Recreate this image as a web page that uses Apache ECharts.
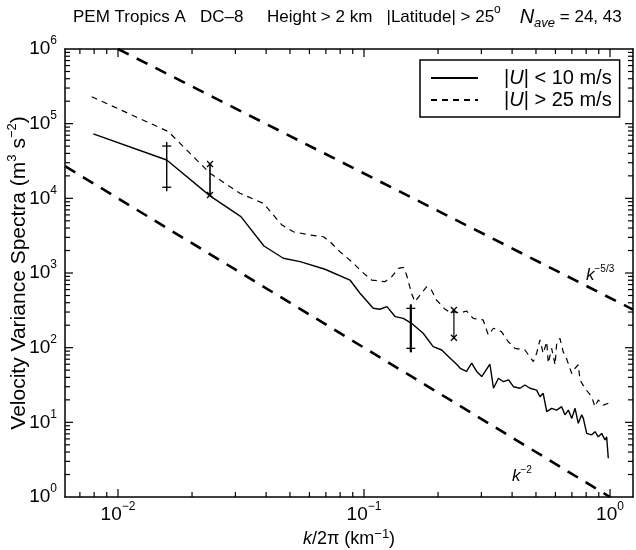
<!DOCTYPE html>
<html>
<head>
<meta charset="utf-8">
<script src="https://cdn.jsdelivr.net/npm/echarts@6/dist/echarts.min.js"></script>
<style>html,body{margin:0;padding:0;background:#fff}#chart{width:636px;height:550px}</style>
</head>
<body>
<div id="chart"></div>
<script>
var FONT = 'Liberation Sans';
var TICK_COLOR = '#000';

// axis ranges
var kMin = 0.00609, kMax = 1.24;
var vMin = 1, vMax = 1e6;

var seriesNames = ['|U| < 10 m/s', '|U| > 25 m/s'];

// |U| < 10 m/s (solid)
var lowK = [0.00794, 0.01578, 0.02366, 0.0316, 0.0392, 0.047, 0.055, 0.0694, 0.0877, 0.0963,
  0.109, 0.116, 0.124, 0.134, 0.1445, 0.156, 0.174, 0.191, 0.207, 0.224,
  0.238, 0.246, 0.261, 0.274, 0.287, 0.301, 0.325, 0.336, 0.352, 0.369,
  0.387, 0.405, 0.431, 0.451, 0.473, 0.503, 0.519, 0.535, 0.553, 0.579,
  0.607, 0.636, 0.656, 0.677, 0.699, 0.721, 0.743, 0.767, 0.779, 0.804,
  0.842, 0.869, 0.896, 0.925, 0.954, 0.969, 0.984];
var lowV = [72800, 32600, 10800, 5680, 2300, 1575, 1420, 1122, 805, 535,
  337, 327, 354, 260, 247, 212, 156, 103, 93, 72,
  60, 53, 48, 62, 48, 41, 60, 28.6, 39, 35,
  37, 30, 28.6, 31.6, 28.6, 27, 22, 24.5, 13.9, 15.4,
  14.6, 16.2, 12.6, 14.6, 11.3, 15.4, 9.7, 12.6, 11.3, 7.1,
  6.8, 7.5, 6.4, 7.1, 5.8, 6.4, 3.3];

// |U| > 25 m/s (dashed)
var highK = [0.00782, 0.01603, 0.01734, 0.02366, 0.0313, 0.039, 0.0428, 0.0464, 0.0516, 0.0603,
  0.0684, 0.0728, 0.0798, 0.0891, 0.098, 0.1075, 0.1217, 0.1297, 0.138, 0.1445,
  0.149, 0.156, 0.161, 0.171, 0.180, 0.188, 0.197, 0.213, 0.227, 0.234,
  0.245, 0.261, 0.278, 0.305, 0.320, 0.336, 0.362, 0.386, 0.411, 0.451,
  0.488, 0.503, 0.519, 0.535, 0.553, 0.561, 0.579, 0.598, 0.607, 0.626,
  0.645, 0.665, 0.699, 0.721, 0.743, 0.755, 0.791, 0.842, 0.869, 0.896,
  0.939, 0.984];
var highV = [229600, 78200, 60400, 21600, 11700, 8570, 5980, 4390, 3570, 3230,
  3060, 2620, 1930, 1420, 1040, 805, 765, 893, 1153, 1190,
  940, 535, 413, 535, 656, 592, 435, 330, 289, 303,
  290, 310, 247, 235, 148, 182, 164, 120, 98, 93,
  65, 84, 127, 84, 120, 62, 98, 59, 114, 133,
  88, 72, 45, 53, 59, 37, 28.6, 22, 16.2, 19.9,
  17, 18];

// error bars: 0 = plus caps, 1 = cross caps
var errK = [0.01578, 0.02366, 0.155, 0.232];
var errLo = [14070, 11100, 98, 136];
var errHi = [50200, 28800, 336, 320];
var errMark = [0, 1, 0, 1];
var errWidth = [1.4, 1.6, 2.2, 1.2];

// reference slopes
var ref53K = [0.01, 1.24], ref53V = [1e6, 324];
var ref2K = [0.00609, 1], ref2V = [26960, 1];

function zip(a, b) { return a.map(function (x, i) { return [x, b[i]]; }); }

// tick values m x 10^e inside (lo, hi), with tick length
function logTicks(lo, hi) {
  var out = [];
  for (var e = Math.floor(Math.log10(lo)); e <= Math.ceil(Math.log10(hi)); e++) {
    for (var m = 1; m <= 9; m++) {
      var v = m * Math.pow(10, e);
      if (v > lo * 1.0001 && v < hi * 0.9999) out.push([v, m === 1 ? 8 : 5]);
    }
  }
  return out;
}

function powLabel(v) {
  var e = Math.log10(v), r = Math.round(e);
  if (Math.abs(e - r) > 1e-6) return '';
  return '{b|10}{s|' + (r < 0 ? '\u2212' + (-r) : r) + '}';
}

var labelRich = {
  b: {fontSize: 19, fontFamily: FONT, color: '#000', lineHeight: 28},
  s: {fontSize: 12, fontFamily: FONT, color: '#000', lineHeight: 12, verticalAlign: 'top'}
};
var supRich = {
  s: {fontSize: 13, fontFamily: FONT, color: '#000', lineHeight: 13, verticalAlign: 'top'},
  i: {fontStyle: 'italic', fontFamily: FONT, color: '#000'}
};

function axisBase(pos, showLabel) {
  return {
    type: 'log', position: pos,
    nameMoveOverlap: false,
    axisLine: {show: true, lineStyle: {color: '#000', width: 1.5}},
    axisTick: {show: false},
    splitLine: {show: false},
    axisLabel: {show: showLabel, formatter: powLabel, rich: labelRich, margin: 4}
  };
}

var x0 = axisBase('bottom', true);
x0.min = kMin; x0.max = kMax;
x0.name = '{i|k}/2\u03c0 (km{s|\u22121})';
x0.nameLocation = 'middle';
x0.nameGap = 31;
x0.nameTextStyle = {fontSize: 18, fontFamily: FONT, color: '#000', lineHeight: 22, rich: supRich};
var x1 = axisBase('top', false);
x1.min = kMin; x1.max = kMax;

var y0 = axisBase('left', true);
y0.min = vMin; y0.max = vMax;
y0.axisLabel.margin = 8;
y0.name = 'Velocity Variance Spectra (m{s|3} s{s|\u22122})';
y0.nameLocation = 'middle';
y0.nameGap = 33;
y0.nameTextStyle = {fontSize: 21, fontFamily: FONT, color: '#000', lineHeight: 26, rich: supRich};
var y1 = axisBase('right', false);
y1.min = vMin; y1.max = vMax;

var chart = echarts.init(document.getElementById('chart'), null, {renderer: 'canvas'});
var option = {
  animation: false,
  title: {
    text: 'PEM Tropics A   DC\u20138     Height > 2 km   |Latitude| > 25{s|o}    {i|N}{sb|ave} = 24, 43',
    left: 73, top: 4, padding: 0,
    textStyle: {
      fontSize: 17, fontWeight: 'normal', fontFamily: FONT, color: '#000', lineHeight: 26,
      rich: {
        s: {fontSize: 12, fontFamily: FONT, color: '#000', lineHeight: 11, verticalAlign: 'top'},
        i: {fontSize: 20, fontStyle: 'italic', fontFamily: FONT, color: '#000'},
        sb: {fontSize: 13, fontStyle: 'italic', fontFamily: FONT, color: '#000', lineHeight: 12, verticalAlign: 'bottom'}
      }
    }
  },
  grid: {left: 65, right: 3, top: 49, bottom: 53, outerBoundsMode: 'none'},
  legend: {
    data: seriesNames,
    orient: 'vertical',
    left: 420, top: 60,
    backgroundColor: '#fff',
    borderColor: '#000', borderWidth: 1.5, borderRadius: 0,
    padding: [8, 8, 7, 10],
    itemWidth: 47, itemHeight: 14, itemGap: 2,
    itemStyle: {color: 'rgba(0,0,0,0)', borderWidth: 0},
    formatter: function (n) { return n.replace('U', '{i|U}'); },
    textStyle: {
      fontSize: 20, fontFamily: FONT, color: '#000', lineHeight: 20, padding: [0, 0, 0, 21],
      rich: {i: {fontSize: 20, fontStyle: 'italic', fontFamily: FONT, color: '#000'}}
    },
    selectedMode: false
  },
  xAxis: [x0, x1],
  yAxis: [y0, y1],
  graphic: [
    {type: 'text', left: 586, top: 264, silent: true,
      style: {text: '{i|k}{s|\u22125/3}', fill: '#000',
        rich: {i: {fontSize: 17, fontStyle: 'italic', fontFamily: FONT, lineHeight: 22},
               s: {fontSize: 10, fontFamily: FONT, lineHeight: 10, verticalAlign: 'top'}}}},
    {type: 'text', left: 512, top: 465, silent: true,
      style: {text: '{i|k}{s|\u22122}', fill: '#000',
        rich: {i: {fontSize: 17, fontStyle: 'italic', fontFamily: FONT, lineHeight: 22},
               s: {fontSize: 10, fontFamily: FONT, lineHeight: 10, verticalAlign: 'top'}}}}
  ],
  series: [
    {
      name: seriesNames[0], type: 'line', data: zip(lowK, lowV),
      symbol: 'none',
      lineStyle: {color: '#000', width: 1.4, type: 'solid'},
      itemStyle: {color: '#000'}
    },
    {
      name: seriesNames[1], type: 'line', data: zip(highK, highV),
      symbol: 'none',
      lineStyle: {color: '#000', width: 1.2, type: [6, 5]},
      itemStyle: {color: '#000'}
    },
    {
      name: 'k53', type: 'line', data: zip(ref53K, ref53V),
      symbol: 'none',
      lineStyle: {color: '#000', width: 2.6, type: [12, 9]}
    },
    {
      name: 'k2', type: 'line', data: zip(ref2K, ref2V),
      symbol: 'none',
      lineStyle: {color: '#000', width: 2.6, type: [12, 9]}
    },
    {
      name: 'err', type: 'custom', clip: false,
      data: errK.map(function (k, i) { return [k, errLo[i], errHi[i], errMark[i], errWidth[i]]; }),
      encode: {x: 0, y: [1, 2]},
      renderItem: function (params, api) {
        var k = api.value(0), lo = api.value(1), hi = api.value(2), mark = api.value(3), w = api.value(4);
        var a = api.coord([k, hi]), b = api.coord([k, lo]);
        var ext = mark === 0 ? 4 : 1;
        var kids = [{type: 'line', shape: {x1: a[0], y1: a[1] - ext, x2: b[0], y2: b[1] + ext},
          style: {stroke: '#000', lineWidth: w}}];
        [a, b].forEach(function (p) {
          if (mark === 0) {
            kids.push({type: 'line', shape: {x1: p[0] - 4.5, y1: p[1], x2: p[0] + 4.5, y2: p[1]},
              style: {stroke: '#000', lineWidth: 1.3}});
          } else {
            kids.push({type: 'line', shape: {x1: p[0] - 3, y1: p[1] - 3, x2: p[0] + 3, y2: p[1] + 3},
              style: {stroke: '#000', lineWidth: 1.3}});
            kids.push({type: 'line', shape: {x1: p[0] - 3, y1: p[1] + 3, x2: p[0] + 3, y2: p[1] - 3},
              style: {stroke: '#000', lineWidth: 1.3}});
          }
        });
        return {type: 'group', children: kids};
      }
    },
    {
      name: 'xticks', type: 'custom', clip: false,
      data: logTicks(kMin, kMax).map(function (t) { return [t[0], 10, t[1]]; }),
      renderItem: function (params, api) {
        var v = api.value(0), len = api.value(2);
        var b = api.coord([v, vMin]), t = api.coord([v, vMax]);
        return {type: 'group', children: [
          {type: 'rect', shape: {x: b[0] - 0.6, y: b[1] - len, width: 1.2, height: len}, style: {fill: TICK_COLOR}},
          {type: 'rect', shape: {x: t[0] - 0.6, y: t[1], width: 1.2, height: len}, style: {fill: TICK_COLOR}}
        ]};
      }
    },
    {
      name: 'yticks', type: 'custom', clip: false,
      data: logTicks(vMin, vMax).map(function (t) { return [0.1, t[0], t[1]]; }),
      renderItem: function (params, api) {
        var v = api.value(1), len = api.value(2);
        var l = api.coord([kMin, v]), r = api.coord([kMax, v]);
        return {type: 'group', children: [
          {type: 'rect', shape: {x: l[0], y: l[1] - 0.6, width: len, height: 1.2}, style: {fill: TICK_COLOR}},
          {type: 'rect', shape: {x: r[0] - len, y: r[1] - 0.6, width: len, height: 1.2}, style: {fill: TICK_COLOR}}
        ]};
      }
    }
  ]
};
chart.setOption(option);
</script>
</body>
</html>
